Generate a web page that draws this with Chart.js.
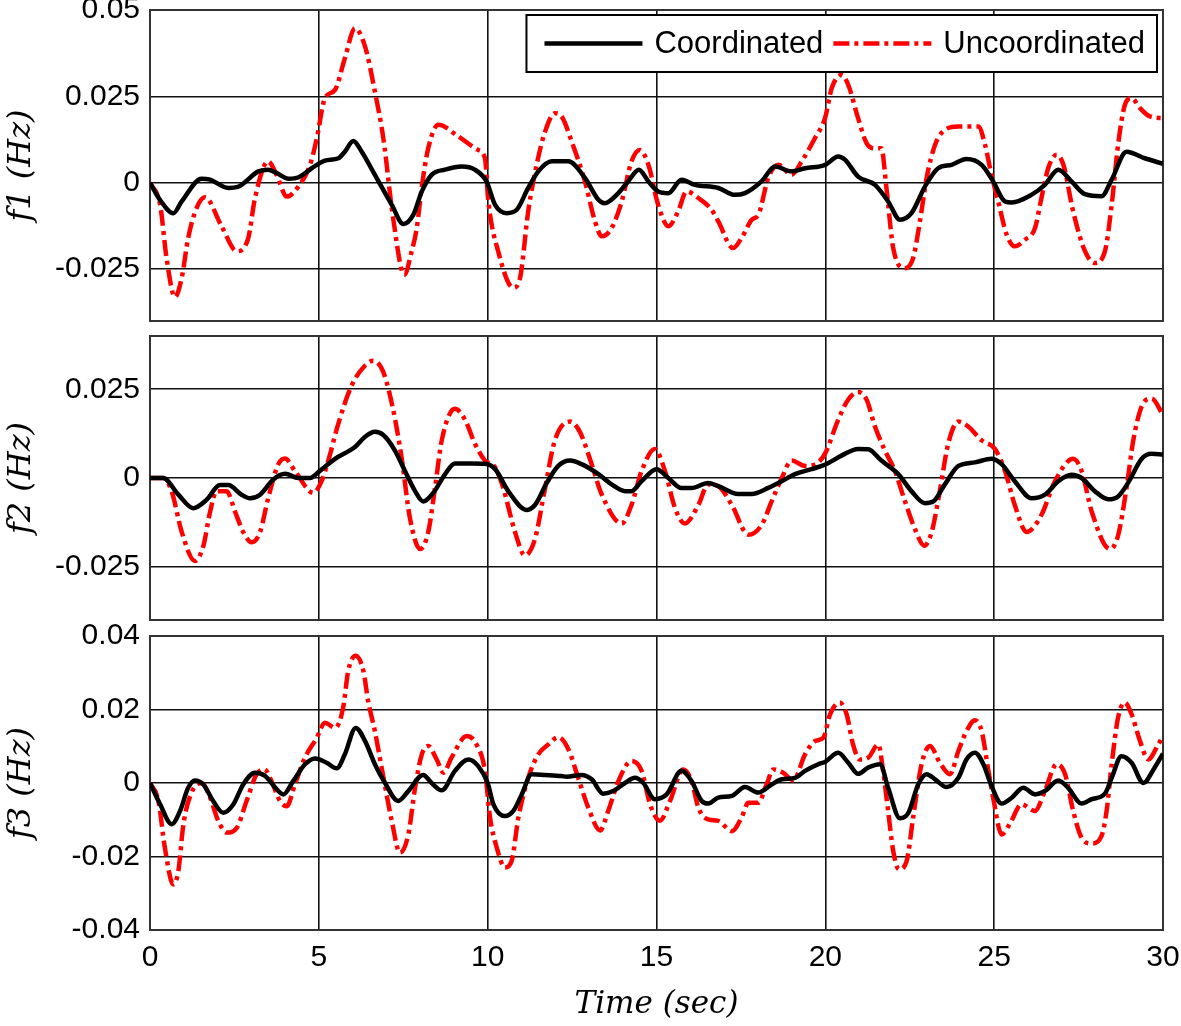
<!DOCTYPE html>
<html>
<head>
<meta charset="utf-8">
<title>Frequency deviations f1, f2, f3</title>
<script src="https://cdn.jsdelivr.net/npm/chart.js@4.4.1/dist/chart.umd.min.js"></script>
<style>
  html, body { margin: 0; padding: 0; background: #fff; }
  #wrap { position: relative; width: 1181px; height: 1026px; overflow: hidden; }
  #wrap canvas { position: absolute; left: 0; }
</style>
</head>
<body>
<div id="wrap">
  <canvas id="panel1" width="1181" height="344" style="top:-14px"></canvas>
  <canvas id="panel2" width="1181" height="304" style="top:326px"></canvas>
  <canvas id="panel3" width="1181" height="410" style="top:616px"></canvas>
</div>
<script>
// ---- data ----
const timeTicks = [0, 5, 10, 15, 20, 25, 30];
const f1Ticks = [-0.025, 0, 0.025, 0.05];
const f2Ticks = [-0.025, 0, 0.025];
const f3Ticks = [-0.04, -0.02, 0, 0.02, 0.04];

// f1
const f1CoordT = [0, 0.3, 0.69, 0.94, 1.53, 1.75, 2.32, 2.6, 3.21, 3.5, 3.74, 4.1, 4.4, 4.79, 5.18, 5.58, 5.77, 6.02, 6.27, 6.66, 7.16, 7.5, 7.8, 8.05, 8.34, 8.74, 9.23, 9.62, 9.97, 10.22, 10.56, 10.86, 11.2, 11.5, 11.9, 12.39, 12.88, 13.28, 13.47, 13.87, 14.16, 14.48, 14.76, 15.05, 15.35, 15.74, 16.14, 16.83, 17.32, 17.62, 18.11, 18.51, 19.0, 19.4, 20.0, 20.38, 20.58, 20.97, 21.47, 21.86, 22.21, 22.55, 22.95, 23.34, 23.74, 24.18, 24.63, 24.97, 25.32, 25.52, 26.1, 26.5, 26.9, 27.29, 27.69, 28.18, 28.48, 28.92, 29.46, 30];
const f1CoordV = [0, -0.005, -0.0088, -0.0054, 0.0012, 0.001, -0.0015, -0.0012, 0.0033, 0.0038, 0.0029, 0.0012, 0.0016, 0.0042, 0.0064, 0.0071, 0.009, 0.0121, 0.009, 0.0023, -0.0064, -0.0119, -0.0092, -0.0025, 0.0023, 0.0038, 0.0047, 0.0038, 0.0003, -0.0064, -0.0088, -0.0078, -0.0015, 0.0033, 0.0062, 0.0062, 0.0014, -0.0049, -0.0059, -0.003, 0.0004, 0.0038, 0.0004, -0.0025, -0.003, 0.0009, -0.0006, -0.0015, -0.0035, -0.003, 0.0004, 0.0047, 0.0033, 0.0042, 0.0052, 0.0076, 0.0067, 0.0018, -0.0006, -0.0054, -0.0107, -0.0088, -0.0011, 0.0042, 0.0052, 0.0069, 0.0052, 0.0004, -0.0054, -0.0057, -0.0035, -0.0006, 0.0038, 0.0004, -0.0033, -0.0039, 0.0009, 0.009, 0.0071, 0.0055];
const f1UncT = [0, 0.3, 0.49, 0.74, 0.94, 1.13, 1.38, 1.63, 2.12, 2.57, 2.91, 3.11, 3.5, 3.75, 4.05, 4.39, 4.74, 4.94, 5.18, 5.48, 5.77, 6.07, 6.37, 6.66, 6.91, 7.2, 7.53, 7.75, 7.9, 8.05, 8.24, 8.54, 9.13, 9.72, 9.92, 10.02, 10.31, 10.76, 10.96, 11.2, 11.45, 11.7, 11.99, 12.19, 12.49, 12.88, 13.18, 13.38, 13.67, 13.97, 14.26, 14.51, 14.76, 15.05, 15.35, 15.64, 15.89, 16.24, 16.63, 16.83, 17.27, 17.52, 17.82, 18.02, 18.31, 18.61, 19.0, 19.3, 19.69, 19.99, 20.19, 20.48, 20.68, 20.97, 21.22, 21.47, 21.66, 21.81, 22.01, 22.36, 22.6, 22.8, 23.0, 23.25, 23.54, 23.94, 24.53, 24.73, 24.92, 25.12, 25.37, 25.61, 25.91, 26.21, 26.4, 26.6, 26.85, 27.05, 27.34, 27.69, 27.98, 28.28, 28.48, 28.67, 28.87, 29.07, 29.32, 29.61, 30];
const f1UncV = [0, -0.0064, -0.0218, -0.0331, -0.0275, -0.016, -0.0073, -0.0042, -0.0126, -0.0198, -0.016, -0.0044, 0.0062, 0.0023, -0.004, -0.0011, 0.0052, 0.0129, 0.0245, 0.0269, 0.036, 0.0447, 0.0394, 0.0264, 0.0129, -0.0102, -0.0266, -0.0198, -0.0131, -0.0011, 0.01, 0.0168, 0.0134, 0.0095, 0.0071, -0.0054, -0.0198, -0.0304, -0.0275, -0.0083, 0.0052, 0.0148, 0.0201, 0.0192, 0.0119, 0.0004, -0.0112, -0.0155, -0.0131, -0.0054, 0.0062, 0.0095, 0.0052, -0.0064, -0.0126, -0.0083, -0.0025, -0.0044, -0.0078, -0.0112, -0.0189, -0.016, -0.0107, -0.0092, 0.0014, 0.0052, 0.0023, 0.0062, 0.0129, 0.0187, 0.0274, 0.0312, 0.0283, 0.0187, 0.0115, 0.01, 0.01, -0.0015, -0.0189, -0.0247, -0.0218, -0.0112, 0.0014, 0.011, 0.0153, 0.0163, 0.0163, 0.011, 0.0023, -0.0054, -0.015, -0.0184, -0.0165, -0.0131, -0.0044, 0.0042, 0.0081, 0.0052, -0.0083, -0.0198, -0.0232, -0.0198, -0.0064, 0.011, 0.0225, 0.0245, 0.0216, 0.0192, 0.0187];

// f2
const f2CoordT = [0, 0.39, 0.84, 1.28, 1.68, 2.07, 2.32, 2.71, 2.96, 3.26, 3.65, 4.0, 4.39, 4.74, 5.03, 5.48, 6.07, 6.37, 6.66, 6.91, 7.25, 7.55, 7.85, 8.09, 8.39, 8.74, 9.03, 9.53, 9.92, 10.22, 10.61, 11.15, 11.4, 11.75, 12.09, 12.44, 12.78, 13.28, 13.67, 14.07, 14.26, 14.56, 15.0, 15.35, 15.74, 16.04, 16.53, 16.83, 17.42, 17.82, 18.31, 18.71, 19.1, 19.59, 20.0, 20.48, 20.97, 21.27, 21.66, 22.16, 22.55, 22.95, 23.2, 23.54, 23.94, 24.43, 24.92, 25.22, 25.61, 26.11, 26.5, 26.9, 27.29, 27.59, 27.98, 28.38, 28.67, 28.97, 29.37, 29.66, 30];
const f2CoordV = [0, 0, -0.0047, -0.0085, -0.0061, -0.002, -0.002, -0.0047, -0.0057, -0.0047, -0.0004, 0.0012, 0, 0, 0.002, 0.0054, 0.0087, 0.0116, 0.013, 0.0121, 0.0078, 0.002, -0.0037, -0.0066, -0.0042, 0.0011, 0.0041, 0.0041, 0.004, 0.0025, -0.0037, -0.009, -0.0076, -0.0014, 0.0034, 0.0049, 0.0039, 0.0011, -0.0018, -0.0037, -0.0037, -0.0009, 0.0025, 0, -0.0028, -0.0028, -0.0014, -0.0023, -0.0045, -0.0045, -0.0028, -0.0009, 0.0011, 0.0025, 0.0038, 0.0063, 0.0082, 0.0081, 0.0049, 0.0011, -0.0037, -0.0071, -0.0066, -0.0018, 0.0034, 0.0044, 0.0054, 0.0039, -0.0009, -0.0057, -0.0047, -0.0009, 0.0009, 0, -0.0037, -0.006, -0.0052, -0.0013, 0.0054, 0.0068, 0.0066];
const f2UncT = [0, 0.39, 0.64, 0.94, 1.33, 1.58, 1.78, 1.97, 2.27, 2.52, 2.76, 3.01, 3.26, 3.5, 3.8, 4.0, 4.29, 4.84, 5.08, 5.28, 5.58, 5.97, 6.37, 6.61, 6.91, 7.2, 7.45, 7.7, 8.0, 8.24, 8.44, 8.64, 9.03, 9.33, 9.62, 9.92, 10.22, 10.46, 10.81, 11.1, 11.4, 11.7, 11.99, 12.44, 12.73, 13.08, 13.38, 13.97, 14.26, 14.56, 14.95, 15.25, 15.55, 15.84, 16.24, 16.53, 16.83, 17.23, 17.72, 18.11, 18.41, 18.71, 19.0, 19.4, 19.79, 20.0, 20.38, 20.68, 20.97, 21.22, 21.47, 21.76, 22.06, 22.36, 22.65, 22.93, 23.15, 23.39, 23.64, 23.94, 24.23, 24.63, 25.02, 25.32, 25.61, 25.96, 26.4, 26.8, 27.34, 27.59, 27.89, 28.43, 28.67, 28.92, 29.12, 29.37, 29.66, 30];
const f2UncV = [0, 0, -0.0037, -0.0152, -0.0234, -0.0191, -0.0095, -0.0037, -0.0037, -0.0095, -0.0152, -0.0181, -0.0152, -0.0057, 0.0039, 0.0055, 0.002, -0.0042, -0.0009, 0.0049, 0.0154, 0.026, 0.0317, 0.033, 0.0298, 0.0193, 0.0058, -0.0114, -0.02, -0.0152, -0.0028, 0.0106, 0.0195, 0.0164, 0.0097, 0.0049, 0.003, -0.0028, -0.0152, -0.0218, -0.0172, -0.0028, 0.0106, 0.0159, 0.013, 0.0039, -0.0047, -0.0128, -0.0076, 0.002, 0.0082, 0.002, -0.0085, -0.0128, -0.0076, -0.0018, -0.0023, -0.0076, -0.016, -0.0133, -0.0066, 0, 0.0049, 0.0034, 0.0044, 0.007, 0.0164, 0.0221, 0.0242, 0.0221, 0.0145, 0.0078, 0.002, -0.0066, -0.0143, -0.0191, -0.0152, -0.0037, 0.0097, 0.0159, 0.0145, 0.0106, 0.0082, 0.002, -0.0076, -0.0152, -0.0104, -0.0009, 0.0054, 0.002, -0.0095, -0.02, -0.0162, -0.0028, 0.0106, 0.0202, 0.0224, 0.0178];

// f3
const f3CoordT = [0, 0.3, 0.64, 0.89, 1.13, 1.33, 1.58, 1.87, 2.17, 2.47, 2.76, 3.11, 3.41, 3.75, 3.95, 4.24, 4.59, 4.89, 5.23, 5.53, 5.77, 6.09, 6.37, 6.66, 6.96, 7.35, 7.65, 8.09, 8.34, 8.64, 9.03, 9.43, 9.72, 10.0, 10.17, 10.51, 10.76, 11.01, 11.3, 11.7, 12.19, 12.34, 12.78, 13.08, 13.42, 13.72, 14.07, 14.36, 14.61, 14.95, 15.3, 15.74, 16.04, 16.34, 16.53, 16.83, 17.23, 17.62, 18.01, 18.41, 18.71, 19.1, 19.4, 19.79, 20.0, 20.38, 20.68, 20.97, 21.27, 21.62, 21.86, 22.21, 22.46, 22.75, 23.0, 23.25, 23.59, 23.94, 24.18, 24.43, 24.68, 24.92, 25.22, 25.52, 25.86, 26.21, 26.5, 26.9, 27.19, 27.59, 27.89, 28.28, 28.48, 28.77, 29.07, 29.42, 29.72, 30];
const f3CoordV = [0, -0.0058, -0.0112, -0.0076, -0.0013, 0.0007, -0.0004, -0.0049, -0.0081, -0.0058, -0.0004, 0.0028, 0.0019, -0.0017, -0.0031, 0.0005, 0.0051, 0.0067, 0.0055, 0.004, 0.0078, 0.015, 0.0114, 0.0051, 0, -0.0049, -0.0022, 0.0022, 0, -0.002, 0.0033, 0.0064, 0.0046, 0, -0.0058, -0.009, -0.0076, -0.0031, 0.0024, 0.0022, 0.0019, 0.0017, 0.0022, 0.001, -0.0029, -0.0022, 0, 0.0014, 0, -0.0044, -0.0031, 0.0033, 0.0005, -0.0049, -0.0056, -0.004, -0.0035, -0.0011, -0.0026, -0.0004, 0.001, 0.0014, 0.0033, 0.0051, 0.0058, 0.0082, 0.0055, 0.0025, 0.0042, 0.0051, -0.0013, -0.0096, -0.0081, -0.0004, 0.0024, 0.001, -0.0011, 0.0014, 0.0064, 0.0082, 0.0051, -0.0008, -0.0056, -0.004, -0.0013, -0.0031, -0.0022, 0.0007, -0.0013, -0.0056, -0.0044, -0.0029, 0.0014, 0.0073, 0.0055, 0, 0.0037, 0.008];
const f3UncT = [0, 0.25, 0.44, 0.69, 0.84, 0.99, 1.23, 1.53, 1.78, 2.02, 2.27, 2.57, 2.86, 3.16, 3.39, 3.6, 3.85, 4.05, 4.29, 4.59, 4.94, 5.18, 5.48, 5.72, 5.87, 6.09, 6.32, 6.46, 6.66, 6.86, 7.16, 7.4, 7.65, 7.85, 8.05, 8.24, 8.49, 8.69, 8.93, 9.38, 9.67, 9.92, 10.07, 10.27, 10.51, 10.71, 10.91, 11.2, 11.5, 11.8, 12.09, 12.39, 12.68, 12.98, 13.33, 13.57, 13.87, 14.26, 14.56, 14.81, 15.1, 15.4, 15.79, 16.04, 16.24, 16.53, 16.83, 17.23, 17.52, 17.72, 18.01, 18.26, 18.46, 18.75, 19.05, 19.4, 19.69, 19.94, 20.14, 20.43, 20.63, 20.82, 21.02, 21.27, 21.57, 21.71, 21.86, 22.01, 22.18, 22.41, 22.6, 22.85, 23.1, 23.39, 23.69, 23.94, 24.18, 24.43, 24.63, 24.83, 24.97, 25.22, 25.46, 25.81, 26.21, 26.5, 26.85, 27.1, 27.34, 27.59, 27.89, 28.18, 28.33, 28.48, 28.67, 28.87, 29.07, 29.32, 29.56, 29.86, 30];
const f3UncV = [0, -0.0049, -0.0176, -0.0276, -0.0239, -0.0112, -0.0026, 0, -0.004, -0.0103, -0.0135, -0.0122, -0.0049, 0.0024, 0.0037, 0.0005, -0.0049, -0.0063, -0.0004, 0.0069, 0.0123, 0.0164, 0.015, 0.0205, 0.0305, 0.0346, 0.0305, 0.0223, 0.0141, 0.0042, -0.0103, -0.019, -0.014, -0.0013, 0.0078, 0.0101, 0.0064, 0.0028, 0.0069, 0.0128, 0.0105, 0.0033, -0.0094, -0.0176, -0.023, -0.0212, -0.0094, 0.0014, 0.0078, 0.0105, 0.0125, 0.0092, 0.0014, -0.0067, -0.0129, -0.0076, 0.0005, 0.006, 0.0033, -0.0058, -0.0103, -0.0049, 0.0037, 0.0005, -0.0067, -0.0099, -0.0103, -0.0131, -0.0094, -0.0054, -0.0054, -0.0004, 0.0037, 0.0028, 0.0007, 0.0078, 0.0114, 0.0123, 0.0187, 0.0219, 0.0187, 0.0105, 0.0064, 0.0069, 0.0105, 0.0033, -0.0076, -0.0185, -0.0235, -0.0212, -0.0094, 0.0051, 0.0101, 0.0055, 0.0024, 0.0087, 0.0141, 0.0171, 0.0141, 0.0033, -0.004, -0.014, -0.0112, -0.0058, -0.0076, -0.0022, 0.0051, 0.0024, -0.0076, -0.0149, -0.0165, -0.0144, -0.0076, 0.0051, 0.0178, 0.0219, 0.0187, 0.0114, 0.0064, 0.0105, 0.0128];

// ---- helpers ----
const tickFont = { family: '"Liberation Sans", Arial, sans-serif', size: 30 };
const titleFont = { family: '"DejaVu Serif", serif', style: 'italic', size: 32 };
const gridStyle = { color: '#111', lineWidth: 1.6, drawTicks: false };

function toPoints(ts, vs) {
  return ts.map((t, i) => ({ x: t, y: vs[i] }));
}

// box round each plot area
const framePlugin = {
  id: 'frame',
  beforeDatasetsDraw(chart) {
    const { ctx, chartArea: a } = chart;
    ctx.save();
    ctx.strokeStyle = '#333';
    ctx.lineWidth = 2;
    ctx.strokeRect(a.left, a.top, a.right - a.left, a.bottom - a.top);
    ctx.restore();
  }
};

// legend drawn inside the top plot, with a border
const boxLegend = {
  id: 'boxLegend',
  afterDatasetsDraw(chart, args, opts) {
    if (!opts.show) return;
    const { ctx, chartArea: a } = chart;
    const items = chart.data.datasets;
    ctx.save();
    ctx.font = '31px "Liberation Sans", Arial, sans-serif';
    const sample = 98, gapLine = 12, gapItem = 10, padL = 18, padR = 12, h = 57;
    const widths = items.map(d => ctx.measureText(d.label).width);
    const w = padL + padR + items.length * (sample + gapLine)
      + widths.reduce((s, v) => s + v, 0) + gapItem * (items.length - 1);
    const x0 = a.right - 6 - w, y0 = a.top + 5;
    ctx.fillStyle = '#fff';
    ctx.fillRect(x0, y0, w, h);
    ctx.strokeStyle = '#000';
    ctx.lineWidth = 2;
    ctx.strokeRect(x0, y0, w, h);
    const yc = y0 + h / 2;
    let x = x0 + padL;
    items.forEach((d, i) => {
      ctx.beginPath();
      ctx.setLineDash(d.borderDash || []);
      ctx.strokeStyle = d.borderColor;
      ctx.lineWidth = d.borderWidth;
      ctx.moveTo(x, yc);
      ctx.lineTo(x + sample, yc);
      ctx.stroke();
      x += sample + gapLine;
      ctx.setLineDash([]);
      ctx.fillStyle = '#000';
      ctx.textBaseline = 'middle';
      ctx.fillText(d.label, x, yc + 1);
      x += widths[i] + gapItem;
    });
    ctx.restore();
  }
};

function buildPanel(id, p) {
  return new Chart(document.getElementById(id), {
    type: 'line',
    data: {
      datasets: [
        {
          label: 'Coordinated',
          data: toPoints(p.coordT, p.coordV),
          borderColor: '#000',
          borderWidth: 4.5,
          pointRadius: 0,
          cubicInterpolationMode: 'monotone'
        },
        {
          label: 'Uncoordinated',
          data: toPoints(p.uncT, p.uncV),
          borderColor: '#ff0000',
          borderWidth: 4.5,
          borderDash: [16, 5, 4, 5],
          pointRadius: 0,
          cubicInterpolationMode: 'monotone'
        }
      ]
    },
    options: {
      responsive: false,
      animation: false,
      layout: { padding: { top: p.padTop, bottom: p.padBottom, left: 0, right: 18 } },
      plugins: {
        legend: { display: false },
        tooltip: { enabled: false },
        boxLegend: { show: !!p.legend }
      },
      scales: {
        x: {
          type: 'linear',
          min: 0,
          max: 30,
          afterBuildTicks: s => { s.ticks = timeTicks.map(v => ({ value: v })); },
          afterFit: s => { s.height = p.xHeight; s.paddingLeft = 0; s.paddingRight = 0; },
          grid: gridStyle,
          border: { display: false },
          ticks: { display: p.showX, font: tickFont, color: '#000', padding: 10, maxRotation: 0 },
          title: {
            display: p.showX,
            text: 'Time (sec)',
            font: { family: '"DejaVu Serif", serif', style: 'italic', size: 31 },
            color: '#000',
            padding: { top: 0, bottom: 2 }
          }
        },
        y: {
          type: 'linear',
          min: p.yMin,
          max: p.yMax,
          afterBuildTicks: s => { s.ticks = p.yTicks.map(v => ({ value: v })); },
          afterFit: s => { s.width = 150; s.paddingTop = 0; s.paddingBottom = 0; },
          grid: gridStyle,
          border: { display: false },
          ticks: {
            font: tickFont,
            color: '#000',
            padding: 10,
            callback: v => String(+v.toFixed(3))
          },
          title: { display: true, text: p.title, font: titleFont, color: '#000', padding: { top: 2, bottom: 0 } }
        }
      }
    },
    plugins: [framePlugin, boxLegend]
  });
}

buildPanel('panel1', {
  coordT: f1CoordT, coordV: f1CoordV, uncT: f1UncT, uncV: f1UncV,
  yMin: -0.04, yMax: 0.05, yTicks: f1Ticks, title: 'f1 (Hz)',
  padTop: 24, padBottom: 9, xHeight: 0, showX: false, legend: true
});
buildPanel('panel2', {
  coordT: f2CoordT, coordV: f2CoordV, uncT: f2UncT, uncV: f2UncV,
  yMin: -0.04, yMax: 0.04, yTicks: f2Ticks, title: 'f2 (Hz)',
  padTop: 10, padBottom: 10, xHeight: 0, showX: false
});
buildPanel('panel3', {
  coordT: f3CoordT, coordV: f3CoordV, uncT: f3UncT, uncV: f3UncV,
  yMin: -0.04, yMax: 0.04, yTicks: f3Ticks, title: 'f3 (Hz)',
  padTop: 20, padBottom: 0, xHeight: 96, showX: true
});
</script>
</body>
</html>
